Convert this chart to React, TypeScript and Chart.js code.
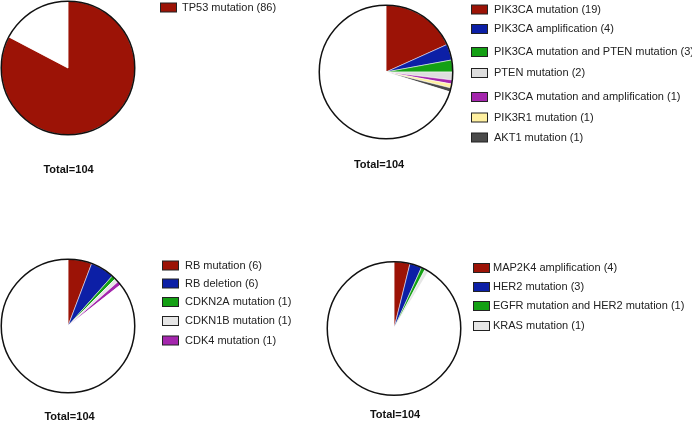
import React, { useEffect, useRef } from "react";
import { Chart, registerables } from "chart.js";

Chart.register(...registerables);

const TOTAL = 104;
const TOTAL_TEXT = "Total=104";

const p1Names = ["TP53 mutation"];
const p1Counts = [86];
const p1Colors = ["#9c1306"];

const p2Names = [
  "PIK3CA mutation",
  "PIK3CA amplification",
  "PIK3CA mutation and PTEN mutation",
  "PTEN mutation",
  "PIK3CA mutation and amplification",
  "PIK3R1 mutation",
  "AKT1 mutation",
];
const p2Counts = [19, 4, 3, 2, 1, 1, 1];
const p2Colors = ["#9c1306", "#0c1fa6", "#14a014", "#dedede", "#a426ad", "#fff0a0", "#4a4a4a"];

const p3Names = ["RB mutation", "RB deletion", "CDKN2A mutation", "CDKN1B mutation", "CDK4 mutation"];
const p3Counts = [6, 6, 1, 1, 1];
const p3Colors = ["#9c1306", "#0c1fa6", "#14a014", "#e6e6e6", "#a426ad"];

const p4Names = ["MAP2K4 amplification", "HER2 mutation", "EGFR mutation and HER2 mutation", "KRAS mutation"];
const p4Counts = [4, 3, 1, 1];
const p4Colors = ["#9c1306", "#0c1fa6", "#14a014", "#e6e6e6"];

const W = 692;
const H = 422;

type Panel = {
  names: string[];
  counts: number[];
  colors: string[];
  cx: number;
  cy: number;
  r: number;
  swatchX: number;
  textX: number;
  ys: number[];
  totalX: number;
  totalY: number;
};

const panels: Panel[] = [
  { names: p1Names, counts: p1Counts, colors: p1Colors, cx: 68, cy: 68, r: 67, swatchX: 160, textX: 182, ys: [7.5], totalX: 68.5, totalY: 169.5 },
  { names: p2Names, counts: p2Counts, colors: p2Colors, cx: 386, cy: 72, r: 67, swatchX: 471, textX: 494, ys: [9.5, 29, 52, 73, 97, 117.5, 137.5], totalX: 379, totalY: 165 },
  { names: p3Names, counts: p3Counts, colors: p3Colors, cx: 68, cy: 326, r: 67, swatchX: 162, textX: 185, ys: [265.5, 283.5, 302, 321, 340.5], totalX: 69.5, totalY: 417 },
  { names: p4Names, counts: p4Counts, colors: p4Colors, cx: 394, cy: 328.5, r: 67, swatchX: 473, textX: 493, ys: [268, 287, 306, 326], totalX: 395, totalY: 414.5 },
];

function PiePanel({ p }: { p: Panel }) {
  const ref = useRef<HTMLCanvasElement>(null);
  useEffect(() => {
    const canvas = ref.current!;
    const rest = TOTAL - p.counts.reduce((a, b) => a + b, 0);
    const labels = [...p.names.map((n, i) => `${n} (${p.counts[i]})`), "Other"];
    const outline = {
      id: "outline",
      afterDatasetsDraw(chart: any) {
        const arc = chart.getDatasetMeta(0).data[0] as any;
        if (!arc) return;
        const ctx = chart.ctx;
        ctx.save();
        ctx.beginPath();
        ctx.arc(arc.x, arc.y, arc.outerRadius, 0, Math.PI * 2);
        ctx.lineWidth = 1.5;
        ctx.strokeStyle = "#111";
        ctx.stroke();
        ctx.restore();
      },
      afterDraw(chart: any) {
        const ctx = chart.ctx;
        ctx.save();
        ctx.font = "11px 'Liberation Sans', Arial, sans-serif";
        ctx.textBaseline = "middle";
        p.names.forEach((_, i) => {
          const y = p.ys[i];
          ctx.fillStyle = p.colors[i];
          ctx.fillRect(p.swatchX, y - 4.5, 16, 9);
          ctx.lineWidth = 1;
          ctx.strokeStyle = "#222";
          ctx.strokeRect(p.swatchX + 0.5, y - 4.5, 16, 9);
          ctx.fillStyle = "#222";
          ctx.textAlign = "left";
          ctx.fillText(labels[i], p.textX, y);
        });
        ctx.font = "bold 11px 'Liberation Sans', Arial, sans-serif";
        ctx.textAlign = "center";
        ctx.fillStyle = "#111";
        ctx.fillText(TOTAL_TEXT, p.totalX, p.totalY);
        ctx.restore();
      },
    };
    const chart = new Chart(canvas, {
      type: "pie",
      data: {
        labels,
        datasets: [
          {
            data: [...p.counts, rest],
            backgroundColor: [...p.colors, "#ffffff"],
            borderWidth: 0.5,
            borderColor: "#ffffff",
          },
        ],
      },
      options: {
        responsive: false,
        animation: false,
        events: [],
        layout: {
          padding: {
            left: p.cx - p.r,
            top: p.cy - p.r,
            right: W - p.cx - p.r,
            bottom: H - p.cy - p.r,
          },
        },
        plugins: { legend: { display: false }, tooltip: { enabled: false }, title: { display: false } },
      },
      plugins: [outline],
    });
    return () => chart.destroy();
  }, [p]);
  return (
    <canvas
      ref={ref}
      width={W}
      height={H}
      style={{ position: "absolute", left: 0, top: 0, width: W, height: H }}
    />
  );
}

export default function App() {
  return (
    <div style={{ position: "fixed", left: 0, top: 0, width: W, height: H, background: "#fff", overflow: "hidden" }}>
      {panels.map((p, i) => (
        <PiePanel key={i} p={p} />
      ))}
    </div>
  );
}
